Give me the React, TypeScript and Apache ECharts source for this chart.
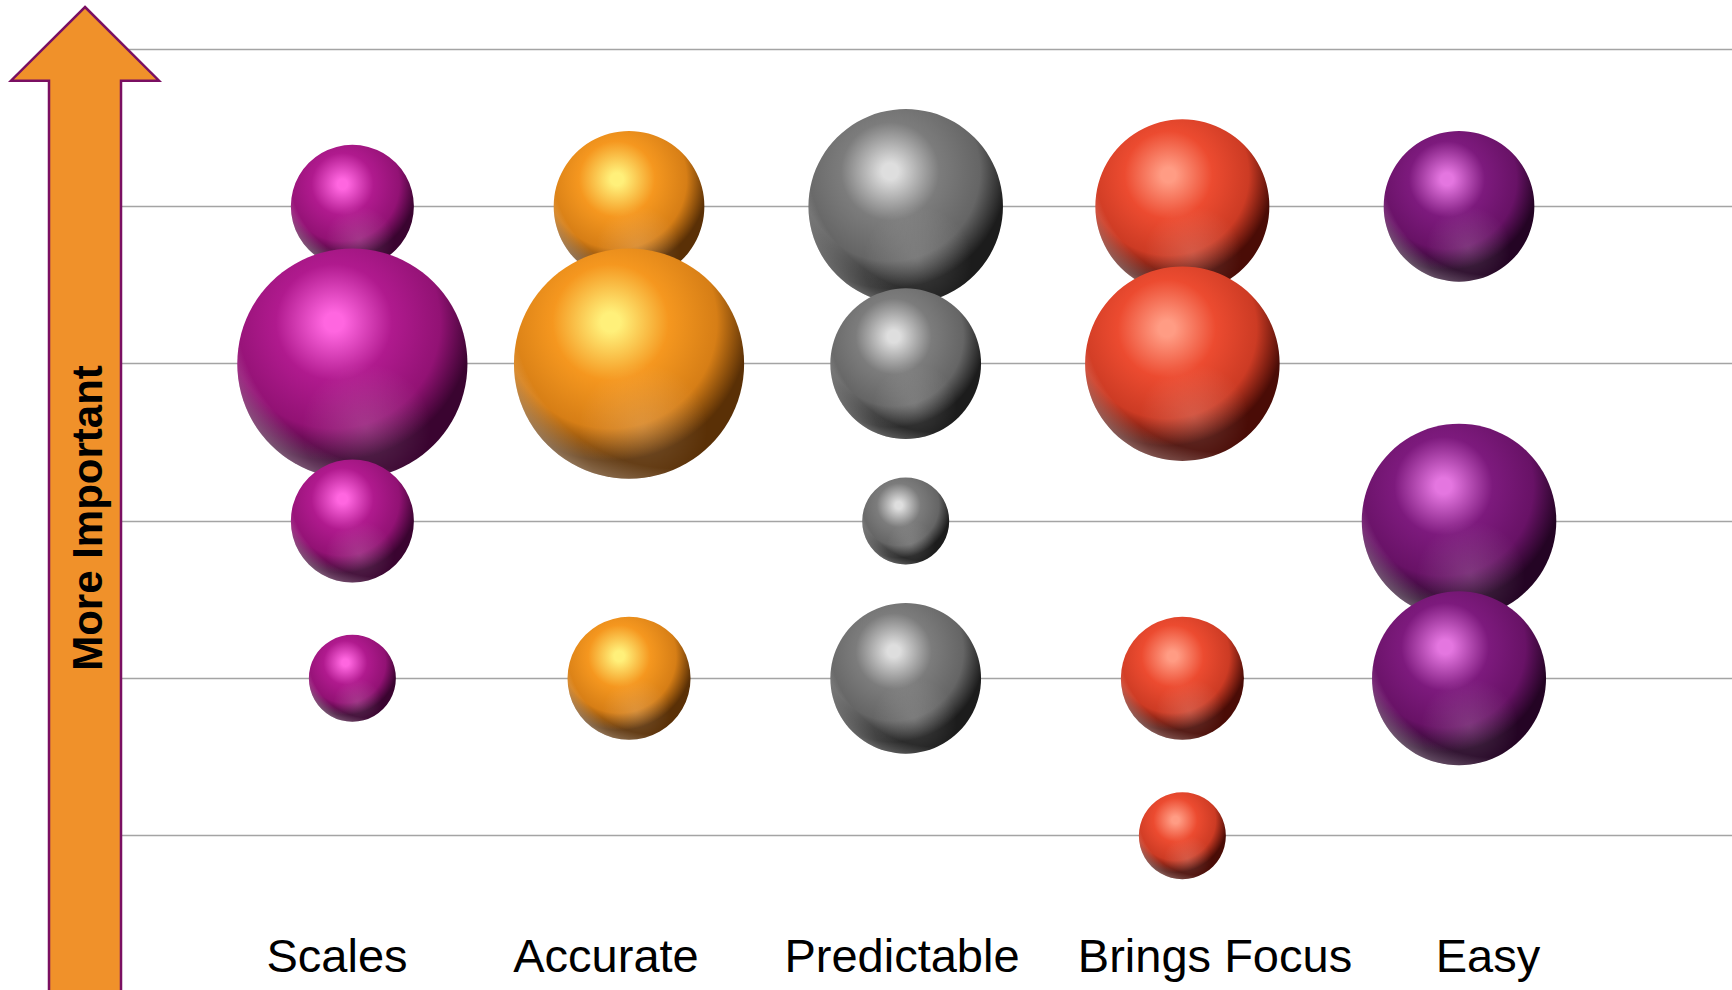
import React, { useEffect, useRef } from "react";
import * as echarts from "echarts";

// Qualities, left to right
const categories = ["Scales", "Accurate", "Predictable", "Brings Focus", "Easy"];

// Each bubble: [importance level (1 = low … 5 = high), number of votes]
const scalesBubbles = [[5, 2], [4, 7], [3, 2], [2, 1]];
const accurateBubbles = [[5, 3], [4, 7], [2, 2]];
const predictableBubbles = [[5, 5], [4, 3], [3, 1], [2, 3]];
const bringsFocusBubbles = [[5, 4], [4, 5], [2, 2], [1, 1]];
const easyBubbles = [[5, 3], [3, 5], [2, 4]];

const bubbleSets = [scalesBubbles, accurateBubbles, predictableBubbles, bringsFocusBubbles, easyBubbles];

// Sphere shading per category: highlight, body, dark edge
const palettes = [
  { hi: "#ff66e0", body: "#b01a8e", mid: "#921274", dark: "#3a0430" },
  { hi: "#fff07a", body: "#f5971f", mid: "#d67e16", dark: "#5a3006" },
  { hi: "#dedede", body: "#7c7c7c", mid: "#656565", dark: "#1c1c1c" },
  { hi: "#ff9c84", body: "#ec4b30", mid: "#cc3b24", dark: "#4a0c06" },
  { hi: "#e476e0", body: "#7d1a7d", mid: "#681266", dark: "#240424" },
];

// Category label centres along the bottom
const labelCentres = [337, 606, 902, 1215, 1488];

const RADIUS_PER_SQRT = 43.5;

function sphereChildren(cx: number, cy: number, r: number, p: any) {
  const shape = { cx, cy, r };
  return [
    {
      type: "circle",
      shape,
      style: {
        fill: {
          type: "radial",
          x: 0.42,
          y: 0.32,
          r: 0.7,
          colorStops: [
            { offset: 0, color: p.hi },
            { offset: 0.06, color: p.hi },
            { offset: 0.36, color: p.body },
            { offset: 0.66, color: p.mid },
            { offset: 0.86, color: p.dark },
            { offset: 1, color: p.dark },
          ],
        },
      },
    },
    {
      // soft reflected light in the lower half
      type: "circle",
      shape,
      style: {
        fill: {
          type: "radial",
          x: 0.56,
          y: 0.78,
          r: 0.28,
          colorStops: [
            { offset: 0, color: "rgba(255,255,255,0.16)" },
            { offset: 1, color: "rgba(255,255,255,0)" },
          ],
        },
      },
    },
    {
      // rim light along the lower-left edge
      type: "circle",
      shape,
      style: {
        fill: {
          type: "radial",
          x: 0.7,
          y: 0.25,
          r: 0.82,
          colorStops: [
            { offset: 0, color: "rgba(255,255,255,0)" },
            { offset: 0.86, color: "rgba(255,255,255,0)" },
            { offset: 1, color: "rgba(255,255,255,0.32)" },
          ],
        },
      },
    },
  ];
}

export default function App() {
  const ref = useRef<HTMLDivElement>(null);

  useEffect(() => {
    if (!ref.current) return;
    const chart = echarts.init(ref.current, null, { renderer: "svg" });

    const series = bubbleSets.map((set, ci) => ({
      type: "custom",
      name: categories[ci],
      silent: true,
      clip: false,
      data: set.map(([level, votes]) => [ci + 1, level, votes]),
      renderItem: (_params: any, api: any) => {
        const c = api.coord([api.value(0), api.value(1)]);
        const r = RADIUS_PER_SQRT * Math.sqrt(api.value(2));
        return { type: "group", children: sphereChildren(c[0], c[1], r, palettes[ci]) };
      },
    }));

    const arrowPoints = [
      [85, 7],
      [159, 80.7],
      [121, 80.7],
      [121, 1000],
      [49, 1000],
      [49, 80.7],
      [11, 80.7],
    ];

    chart.setOption({
      animation: false,
      backgroundColor: "#ffffff",
      // the plot area runs a few pixels past the right and bottom edges of the page
      grid: { left: 75.7, top: 49, width: 1660, height: 944, containLabel: false },
      xAxis: {
        type: "value",
        min: 0,
        max: 6,
        interval: 1,
        show: false,
      },
      yAxis: {
        type: "value",
        min: 0,
        max: 6,
        interval: 1,
        axisLine: { show: false },
        axisTick: { show: false },
        axisLabel: { show: false },
        splitLine: { show: true, lineStyle: { color: "#a4a4a4", width: 1.4 } },
      },
      series,
      graphic: [
        {
          type: "polygon",
          z: 100,
          shape: { points: arrowPoints },
          style: { fill: "#f0912a", stroke: "#7a0f62", lineWidth: 2.5 },
        },
        {
          type: "text",
          z: 101,
          x: 87,
          y: 518,
          rotation: Math.PI / 2,
          style: {
            text: "More Important",
            font: "bold 42px 'Liberation Sans', Arial, sans-serif",
            fill: "#000000",
            textAlign: "center",
            textVerticalAlign: "middle",
          },
        },
        ...categories.map((name, i) => ({
          type: "text",
          z: 101,
          x: labelCentres[i],
          y: 955,
          style: {
            text: name,
            font: "47px 'Liberation Sans', Arial, sans-serif",
            fill: "#000000",
            textAlign: "center",
            textVerticalAlign: "middle",
          },
        })),
      ],
    });

    return () => chart.dispose();
  }, []);

  return (
    <div
      ref={ref}
      style={{ position: "fixed", left: 0, top: 0, width: 1740, height: 1000, background: "#fff" }}
    />
  );
}
